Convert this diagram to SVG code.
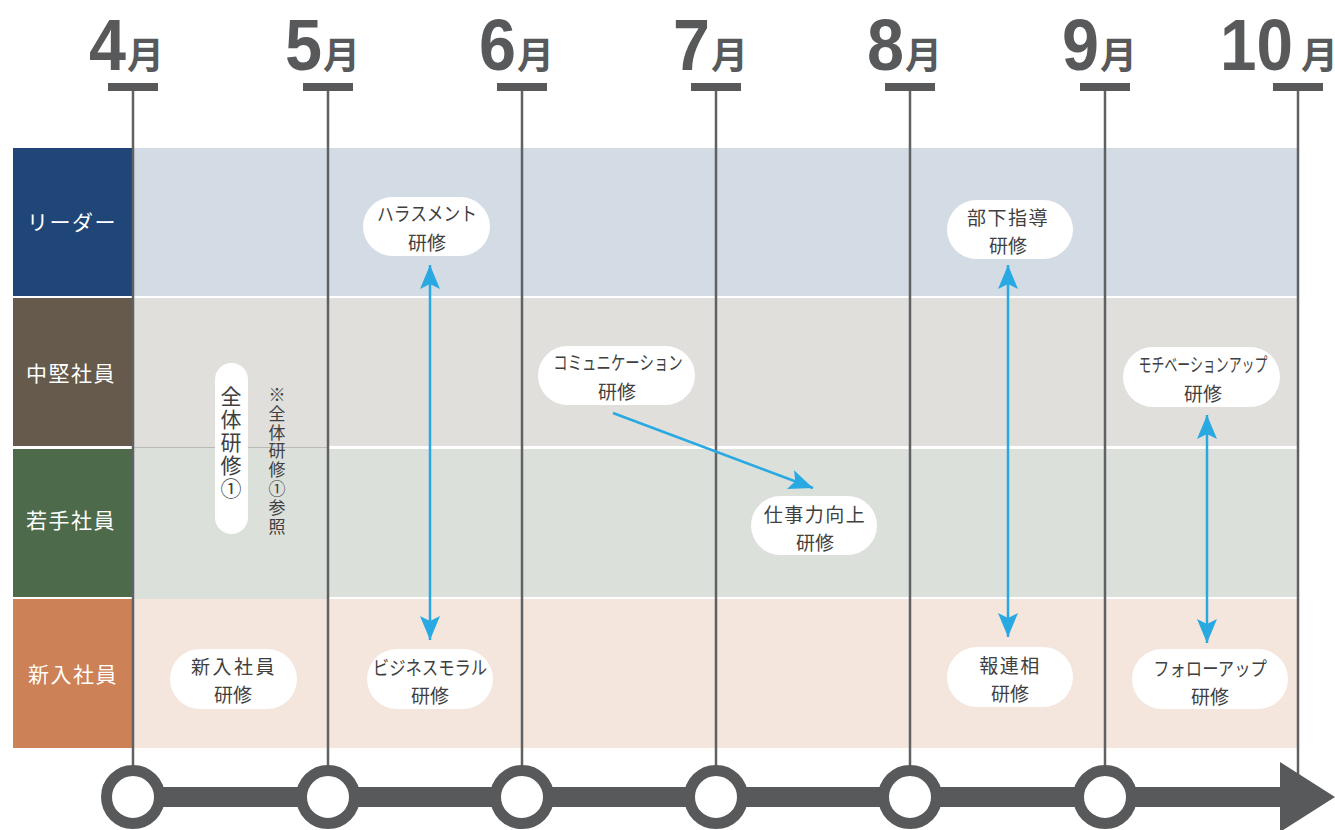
<svg xmlns="http://www.w3.org/2000/svg" width="1335" height="830" viewBox="0 0 1335 830">
<style>
.mon{font-family:"Liberation Sans",Arial,sans-serif;font-weight:bold;font-size:72px;fill:#58595b}
.tsu{font-family:"Noto Sans CJK JP","Noto Sans",sans-serif;font-weight:bold;font-size:37px;fill:#58595b}
.tick{fill:#58595b}
.vl{stroke:#606163;stroke-width:2.5;fill:none}
.lab{font-family:"Noto Sans CJK JP","Noto Sans",sans-serif;font-size:21px;fill:#ffffff;text-anchor:middle;dominant-baseline:central;letter-spacing:1.5px}
.pill{fill:#ffffff}
.nt{font-family:"Noto Sans CJK JP","Noto Sans",sans-serif;font-size:19px;fill:#3f3f3f;text-anchor:middle;dominant-baseline:central}
.vt{font-family:"Noto Sans CJK JP","Noto Sans",sans-serif;fill:#3f3f3f;writing-mode:vertical-rl}
.arr{stroke:#29a9e1;stroke-width:2.5;fill:none}
.circ{fill:#ffffff;stroke:#58595b;stroke-width:11}
</style>
<defs>
<marker id="ah" markerUnits="userSpaceOnUse" viewBox="-25 -11 26 22" refX="0" refY="0" markerWidth="26" markerHeight="22" orient="auto-start-reverse">
<path d="M0,0 L-24,-10 L-19,0 L-24,10 Z" fill="#29a9e1"/>
</marker>
</defs>

<g id="bands">
<rect x="13" y="148" width="120" height="148" fill="#1f4677"/>
<rect x="133" y="148" width="1165" height="148" fill="#d3dbe4"/>
<rect x="13" y="298" width="120" height="148" fill="#655a4b"/>
<rect x="133" y="298" width="1165" height="148" fill="#e0dfdb"/>
<rect x="133" y="446" width="195" height="1.5" fill="#e0dfdb"/>
<rect x="13" y="449" width="120" height="148" fill="#4d6a4a"/>
<rect x="133" y="449" width="1165" height="148" fill="#dce0db"/>
<rect x="133" y="447" width="195" height="2" fill="#dce0db"/>
<line x1="133" y1="447.5" x2="328" y2="447.5" stroke="#b9bab6" stroke-width="1"/>
<rect x="13" y="599" width="120" height="149" fill="#cd8156"/>
<rect x="133" y="599" width="1165" height="149" fill="#f4e5dd"/>
<rect x="133" y="597" width="195" height="2" fill="#dce0db"/>
</g>

<g id="row-labels">
<text class="lab" x="72" y="221">リーダー</text>
<text class="lab" x="71" y="372">中堅社員</text>
<text class="lab" x="71" y="519">若手社員</text>
<text class="lab" x="73" y="673">新入社員</text>
</g>

<g id="month-lines">
<line class="vl" x1="133" y1="88" x2="133" y2="775"/>
<line class="vl" x1="328" y1="88" x2="328" y2="775"/>
<line class="vl" x1="522" y1="88" x2="522" y2="775"/>
<line class="vl" x1="716" y1="88" x2="716" y2="775"/>
<line class="vl" x1="910" y1="88" x2="910" y2="775"/>
<line class="vl" x1="1105" y1="88" x2="1105" y2="775"/>
<line class="vl" x1="1298" y1="88" x2="1298" y2="775"/>
<rect class="tick" x="108" y="83" width="50" height="8"/>
<rect class="tick" x="303" y="83" width="50" height="8"/>
<rect class="tick" x="497" y="83" width="50" height="8"/>
<rect class="tick" x="691" y="83" width="50" height="8"/>
<rect class="tick" x="885" y="83" width="50" height="8"/>
<rect class="tick" x="1080" y="83" width="50" height="8"/>
<rect class="tick" x="1273" y="83" width="50" height="8"/>
</g>

<g id="month-labels">
<text x="89" y="70"><tspan class="mon" textLength="37" lengthAdjust="spacingAndGlyphs">4</tspan><tspan class="tsu" x="127" y="69">月</tspan></text>
<text x="285" y="70"><tspan class="mon" textLength="37" lengthAdjust="spacingAndGlyphs">5</tspan><tspan class="tsu" x="323" y="69">月</tspan></text>
<text x="479" y="70"><tspan class="mon" textLength="37" lengthAdjust="spacingAndGlyphs">6</tspan><tspan class="tsu" x="517" y="69">月</tspan></text>
<text x="673" y="70"><tspan class="mon" textLength="37" lengthAdjust="spacingAndGlyphs">7</tspan><tspan class="tsu" x="711" y="69">月</tspan></text>
<text x="867" y="70"><tspan class="mon" textLength="37" lengthAdjust="spacingAndGlyphs">8</tspan><tspan class="tsu" x="905" y="69">月</tspan></text>
<text x="1062" y="70"><tspan class="mon" textLength="37" lengthAdjust="spacingAndGlyphs">9</tspan><tspan class="tsu" x="1100" y="69">月</tspan></text>
<text x="1220" y="70"><tspan class="mon" textLength="73" lengthAdjust="spacingAndGlyphs">10</tspan><tspan class="tsu" x="1301" y="69" font-size="30">月</tspan></text>
</g>

<g id="timeline">
<rect x="133" y="787" width="1150" height="20" fill="#58595b"/>
<polygon points="1280,762 1335,797 1280,832" fill="#58595b"/>
<circle class="circ" cx="133" cy="797" r="26.5"/>
<circle class="circ" cx="328" cy="797" r="26.5"/>
<circle class="circ" cx="522" cy="797" r="26.5"/>
<circle class="circ" cx="716" cy="797" r="26.5"/>
<circle class="circ" cx="910" cy="797" r="26.5"/>
<circle class="circ" cx="1105" cy="797" r="26.5"/>
</g>

<g id="connectors">
<line class="arr" x1="430" y1="265" x2="430" y2="640" marker-start="url(#ah)" marker-end="url(#ah)"/>
<line class="arr" x1="1008" y1="265" x2="1008" y2="637" marker-start="url(#ah)" marker-end="url(#ah)"/>
<line class="arr" x1="1207" y1="415" x2="1207" y2="643" marker-start="url(#ah)" marker-end="url(#ah)"/>
<line class="arr" x1="613" y1="413" x2="813" y2="488" marker-end="url(#ah)"/>
</g>

<g id="node-harassment">
<rect class="pill" x="363" y="197" width="127" height="59" rx="29.5"/>
<text class="nt" transform="translate(427,213) scale(0.88,1)">ハラスメント</text>
<text class="nt" x="427" y="241">研修</text>
</g>
<g id="node-buka">
<rect class="pill" x="947" y="200" width="126" height="59" rx="29.5"/>
<text class="nt" x="1008" y="216" letter-spacing="1.5">部下指導</text>
<text class="nt" x="1008" y="244">研修</text>
</g>
<g id="node-comm">
<rect class="pill" x="538" y="346" width="157" height="59" rx="29.5"/>
<text class="nt" transform="translate(618,362) scale(0.76,1)">コミュニケーション</text>
<text class="nt" x="617" y="390">研修</text>
</g>
<g id="node-shigoto">
<rect class="pill" x="751" y="496" width="126" height="59" rx="29.5"/>
<text class="nt" x="815" y="513" letter-spacing="1.5">仕事力向上</text>
<text class="nt" x="815" y="541">研修</text>
</g>
<g id="node-motivation">
<rect class="pill" x="1123" y="347" width="157" height="60" rx="30"/>
<text class="nt" transform="translate(1203,364) scale(0.68,1)">モチベーションアップ</text>
<text class="nt" x="1203" y="392">研修</text>
</g>
<g id="node-shinnyu">
<rect class="pill" x="170" y="649" width="127" height="60" rx="30"/>
<text class="nt" x="234" y="665" letter-spacing="2.5">新入社員</text>
<text class="nt" x="233" y="693">研修</text>
</g>
<g id="node-business">
<rect class="pill" x="367" y="649" width="126" height="60" rx="30"/>
<text class="nt" transform="translate(430,666) scale(0.86,1)">ビジネスモラル</text>
<text class="nt" x="430" y="694">研修</text>
</g>
<g id="node-horenso">
<rect class="pill" x="947" y="647" width="126" height="60" rx="30"/>
<text class="nt" x="1010" y="664" letter-spacing="1.5">報連相</text>
<text class="nt" x="1010" y="692">研修</text>
</g>
<g id="node-followup">
<rect class="pill" x="1132" y="649" width="156" height="60" rx="30"/>
<text class="nt" transform="translate(1210,667) scale(0.86,1)">フォローアップ</text>
<text class="nt" x="1210" y="695">研修</text>
</g>
<g id="node-zentai">
<rect class="pill" x="215" y="363" width="33" height="171" rx="16.5"/>
<text class="vt" x="231" y="386" font-size="21" letter-spacing="2">全体研修①</text>
</g>
<g id="note-zentai">
<text class="vt" x="277" y="386" font-size="17" letter-spacing="1.8">※全体研修①参照</text>
</g>
</svg>
